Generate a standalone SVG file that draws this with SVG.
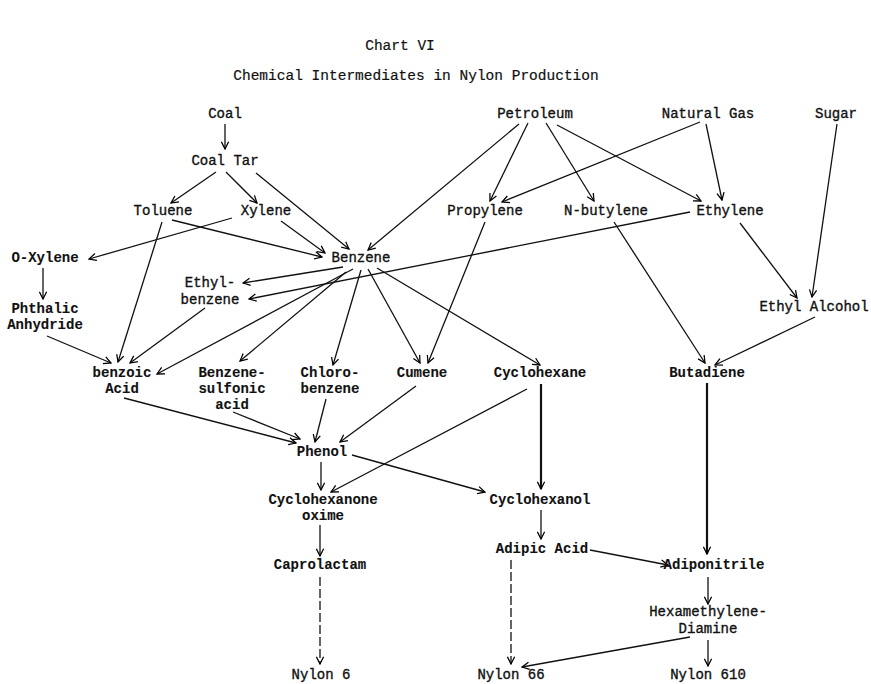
<svg xmlns="http://www.w3.org/2000/svg" width="871" height="684" viewBox="0 0 871 684">
<defs>
<marker id="a" viewBox="0 0 10 10" refX="9" refY="5" markerWidth="9" markerHeight="9" markerUnits="userSpaceOnUse" orient="auto">
<path d="M1,1 L9,5 L1,9" fill="none" stroke="#000" stroke-width="1.4"/>
</marker>
</defs>
<style>
text{font-family:"Liberation Mono","DejaVu Sans Mono",monospace;font-size:14px;fill:#111;stroke:#111;stroke-width:0.35;text-anchor:middle}
.b{font-weight:bold;stroke-width:0.1}
.t{font-size:14.5px;stroke-width:0.2}
#edges line{stroke:#111;stroke-width:1.3;fill:none;marker-end:url(#a)}
#edges .k{stroke-width:2.2}
#edges .d{stroke-dasharray:9 3}
</style>
<rect width="871" height="684" fill="#fff"/>
<g id="title">
<text class="t" x="400" y="50">Chart VI</text>
<text class="t" x="416" y="80">Chemical Intermediates in Nylon Production</text>
</g>
<g id="edges">
<line x1="225" y1="124" x2="225" y2="149"/>
<line x1="216" y1="172" x2="171" y2="203"/>
<line x1="226" y1="172" x2="257" y2="203"/>
<line x1="256" y1="173" x2="349" y2="249"/>
<line x1="172" y1="220" x2="322" y2="257"/>
<line x1="281" y1="221" x2="325" y2="253"/>
<line x1="232" y1="218" x2="89" y2="259"/>
<line x1="162" y1="222" x2="118" y2="362"/>
<line x1="519" y1="124" x2="368" y2="250"/>
<line x1="528" y1="123" x2="490" y2="201"/>
<line x1="546" y1="123" x2="594" y2="201"/>
<line x1="557" y1="125" x2="701" y2="201"/>
<line x1="700" y1="122" x2="502" y2="202"/>
<line x1="706" y1="124" x2="722" y2="200"/>
<line x1="837" y1="124" x2="812" y2="297"/>
<line x1="740" y1="223" x2="797" y2="298"/>
<line x1="690" y1="212" x2="249" y2="299"/>
<line x1="343" y1="267" x2="243" y2="283"/>
<line x1="353" y1="269" x2="157" y2="374"/>
<line x1="346" y1="272" x2="240" y2="361"/>
<line x1="361" y1="270" x2="333" y2="365"/>
<line x1="368" y1="269" x2="420" y2="363"/>
<line x1="377" y1="268" x2="540" y2="365"/>
<line x1="485" y1="222" x2="428" y2="363"/>
<line x1="614" y1="222" x2="705" y2="363"/>
<line x1="815" y1="317" x2="715" y2="365"/>
<line x1="47" y1="336" x2="111" y2="363"/>
<line x1="43" y1="268" x2="43" y2="299"/>
<line x1="205" y1="308" x2="130" y2="363"/>
<line x1="124" y1="398" x2="296" y2="443"/>
<line x1="233" y1="412" x2="300" y2="439"/>
<line x1="326" y1="399" x2="315" y2="442"/>
<line x1="416" y1="386" x2="340" y2="442"/>
<line x1="527" y1="389" x2="331" y2="492"/>
<line class="k" x1="541" y1="384" x2="541" y2="489"/>
<line x1="321" y1="462" x2="321" y2="490"/>
<line x1="352" y1="455" x2="485" y2="492"/>
<line x1="541" y1="510" x2="541" y2="539"/>
<line x1="320" y1="525" x2="320" y2="556"/>
<line class="d" x1="320" y1="577" x2="320" y2="664"/>
<line x1="590" y1="550" x2="668" y2="565"/>
<line class="d" x1="511" y1="560" x2="511" y2="664"/>
<line class="k" x1="707" y1="383" x2="707" y2="554"/>
<line x1="708" y1="577" x2="708" y2="604"/>
<line x1="690" y1="637" x2="522" y2="667"/>
<line x1="708" y1="640" x2="708" y2="666"/>
</g>
<g id="coal"><text x="225" y="118">Coal</text></g>
<g id="coal-tar"><text x="225" y="165">Coal Tar</text></g>
<g id="toluene"><text x="163" y="215">Toluene</text></g>
<g id="xylene"><text x="266" y="215">Xylene</text></g>
<g id="petroleum"><text x="535" y="118">Petroleum</text></g>
<g id="natural-gas"><text x="708" y="118">Natural Gas</text></g>
<g id="sugar"><text x="836" y="118">Sugar</text></g>
<g id="propylene"><text x="485" y="215">Propylene</text></g>
<g id="n-butylene"><text x="606" y="215">N-butylene</text></g>
<g id="ethylene"><text x="730" y="215">Ethylene</text></g>
<g id="o-xylene"><text class="b" x="45" y="262">O-Xylene</text></g>
<g id="benzene"><text x="361" y="262">Benzene</text></g>
<g id="ethylbenzene"><text x="210" y="287">Ethyl-</text><text x="210" y="304">benzene</text></g>
<g id="phthalic"><text class="b" x="45" y="313">Phthalic</text><text class="b" x="45" y="329">Anhydride</text></g>
<g id="ethyl-alcohol"><text x="814" y="311">Ethyl Alcohol</text></g>
<g id="benzoic"><text class="b" x="122" y="377">benzoic</text><text class="b" x="122" y="393">Acid</text></g>
<g id="benzenesulfonic"><text class="b" x="232" y="377">Benzene-</text><text class="b" x="232" y="393">sulfonic</text><text class="b" x="232" y="409">acid</text></g>
<g id="chlorobenzene"><text class="b" x="330" y="377">Chloro-</text><text class="b" x="330" y="393">benzene</text></g>
<g id="cumene"><text class="b" x="422" y="377">Cumene</text></g>
<g id="cyclohexane"><text class="b" x="540" y="377">Cyclohexane</text></g>
<g id="butadiene"><text class="b" x="707" y="377">Butadiene</text></g>
<g id="phenol"><text class="b" x="322" y="456">Phenol</text></g>
<g id="cyclohexanone-oxime"><text class="b" x="323" y="504">Cyclohexanone</text><text class="b" x="323" y="520">oxime</text></g>
<g id="cyclohexanol"><text class="b" x="540" y="504">Cyclohexanol</text></g>
<g id="adipic-acid"><text class="b" x="542" y="553">Adipic Acid</text></g>
<g id="adiponitrile"><text class="b" x="714" y="569">Adiponitrile</text></g>
<g id="caprolactam"><text class="b" x="320" y="569">Caprolactam</text></g>
<g id="hmda"><text x="708" y="616">Hexamethylene-</text><text x="708" y="633">Diamine</text></g>
<g id="nylon6"><text x="321" y="679">Nylon 6</text></g>
<g id="nylon66"><text x="511" y="679">Nylon 66</text></g>
<g id="nylon610"><text x="708" y="679">Nylon 610</text></g>
</svg>
